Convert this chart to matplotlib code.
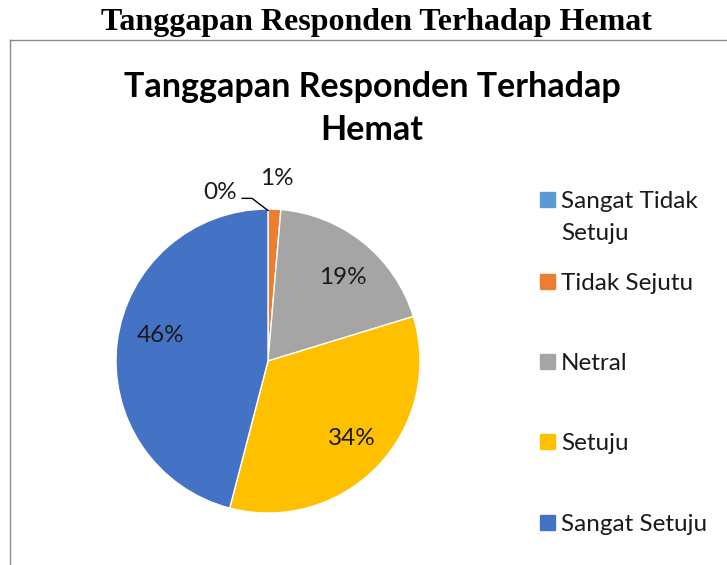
import matplotlib.pyplot as plt
import numpy as np

# data
kategori = ['Sangat Tidak Setuju', 'Tidak Sejutu', 'Netral', 'Setuju', 'Sangat Setuju']
legend_lines = [['Sangat Tidak', 'Setuju'], ['Tidak Sejutu'], ['Netral'], ['Setuju'], ['Sangat Setuju']]
jumlah = [0, 1, 14, 25, 34]
warna = ['#5B9BD5', '#ED7D31', '#A5A5A5', '#FFC000', '#4472C4']

# posisi label persen (koordinat pie, jari-jari = 1)
label_pos = [(-0.316, 1.11), (0.06, 1.20), (0.49, 0.55), (0.55, -0.51), (-0.71, 0.17)]

W, H = 727, 565
fig = plt.figure(figsize=(W / 100, H / 100), dpi=100)

def fx(px):
    return px / W

def fy(py):
    return 1 - py / H

# bingkai chart (garis kiri dan atas)
fig.add_artist(plt.Line2D([fx(10), fx(10)], [fy(40), fy(565)], color='#8c8c8c', lw=1))
fig.add_artist(plt.Line2D([fx(10), fx(727)], [fy(40), fy(40)], color='#8c8c8c', lw=1))

# judul dokumen
fig.text(fx(376), fy(30), 'Tanggapan Responden Terhadap Hemat', family='Liberation Serif',
         weight='bold', fontsize=23, ha='center', va='baseline')

# judul chart
fig.text(fx(372), fy(97), 'Tanggapan Responden Terhadap', family='Lato',
         weight='bold', fontsize=24.5, ha='center', va='baseline')
fig.text(fx(372), fy(140), 'Hemat', family='Lato',
         weight='bold', fontsize=24.5, ha='center', va='baseline')

# pie
cx, cy, r = 268, 361, 152
ax = fig.add_axes([fx(cx - r), fy(cy + r), 2 * r / W, 2 * r / H])
wedges, texts, autotexts = ax.pie(jumlah, colors=warna, startangle=90, counterclock=False,
                                  autopct=lambda p: '%d%%' % round(p), pctdistance=0.73,
                                  wedgeprops=dict(edgecolor='white', linewidth=1),
                                  textprops=dict(family='Lato', fontsize=17.5, color='#1a1a1a'))
ax.set_xlim(-1, 1)
ax.set_ylim(-1, 1)
ax.set_aspect('auto')
ax.axis('off')

for t, pos in zip(autotexts, label_pos):
    t.set_position(pos)

# garis penunjuk label 0%
ax.plot([-0.17, -0.105, 0.0], [1.07, 1.07, 0.99], color='black', lw=1, clip_on=False)

# legenda manual
leg_y = [199, 281, 361, 441, 522]
for lines, c, y in zip(legend_lines, warna, leg_y):
    fig.add_artist(plt.Rectangle((fx(540), fy(y + 7.5)), 15 / W, 15 / H, color=c))
    for i, line in enumerate(lines):
        fig.text(fx(561), fy(y + 9 + 32 * i), line, family='Lato', fontsize=17.5,
                 ha='left', va='baseline', color='#1a1a1a')

fig.savefig('out.png', dpi=100)
